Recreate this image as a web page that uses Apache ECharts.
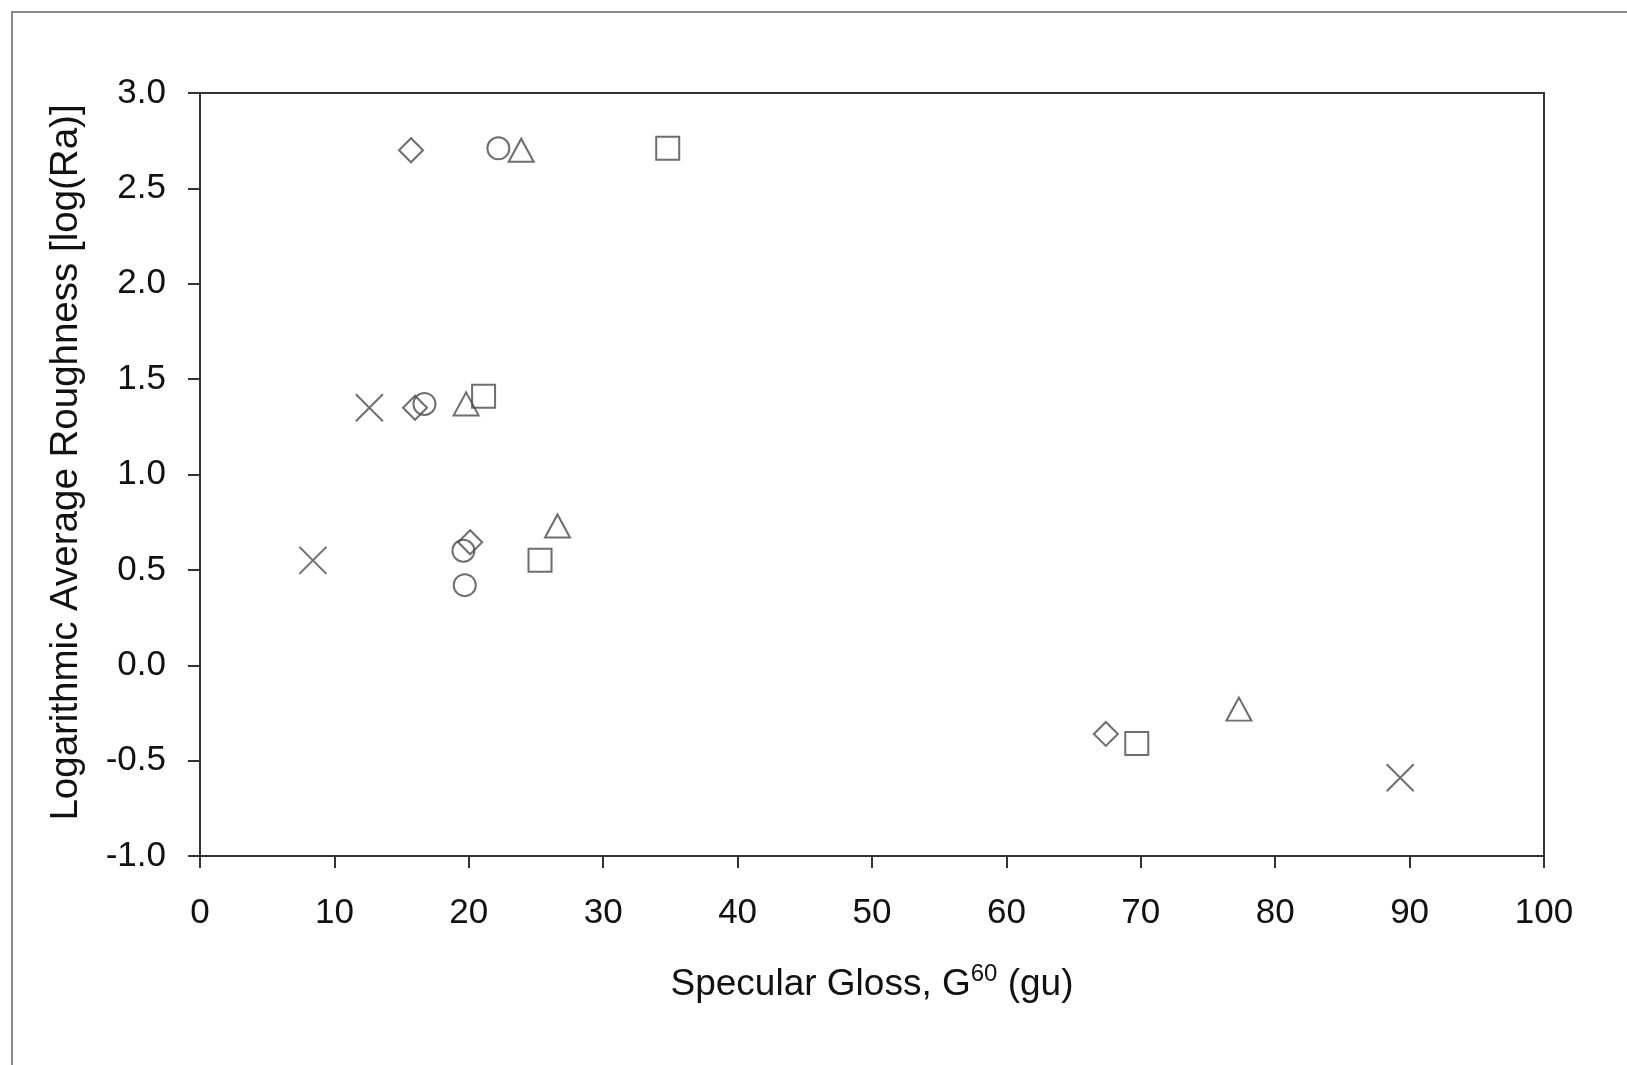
<!DOCTYPE html>
<html>
<head>
<meta charset="utf-8">
<script src="https://cdn.jsdelivr.net/npm/echarts@6/dist/echarts.min.js"></script>
<style>
  html, body { margin: 0; padding: 0; background: #fff; }
  #chart { width: 1627px; height: 1065px; }
</style>
</head>
<body>
<div id="chart"></div>
<script>
// [gloss G60, log(Ra)]
const diamondPts = [[15.7, 2.70], [16.0, 1.35], [20.1, 0.645], [67.4, -0.36]];
const circlePts = [[22.2, 2.71], [16.7, 1.37], [19.6, 0.60], [19.7, 0.42]];
const trianglePts = [[23.9, 2.70], [19.8, 1.37], [26.6, 0.73], [77.3, -0.23]];
const squarePts = [[34.8, 2.71], [21.1, 1.41], [25.3, 0.55], [69.7, -0.41]];
const crossPts = [[12.6, 1.35], [8.4, 0.55], [89.3, -0.59]];

const font = "'Liberation Sans', Arial, sans-serif";
const ink = "#4a4a4a";

const chart = echarts.init(document.getElementById("chart"));

function markSeries(data, symbol, size) {
  return {
    type: "scatter",
    data: data,
    symbol: symbol,
    symbolSize: size,
    itemStyle: { color: "rgba(255,255,255,0)", borderColor: ink, borderWidth: 2 },
    emphasis: { disabled: true },
    z: 3
  };
}

chart.setOption({
  animation: false,
  backgroundColor: "#fff",
  graphic: [
    {
      type: "rect",
      shape: { x: 12, y: 12, width: 1700, height: 1200 },
      style: { fill: "none", stroke: "#8a8a8a", lineWidth: 2 },
      silent: true
    }
  ],
  grid: {
    left: 200, right: 83, top: 93, bottom: 209,
    show: true, borderColor: "#333", borderWidth: 2, backgroundColor: "transparent"
  },
  xAxis: {
    type: "value",
    min: 0, max: 100, interval: 10,
    name: "{a|Specular Gloss, G}{s|60}{a| (gu)}",
    nameLocation: "middle",
    nameGap: 106,
    nameTextStyle: {
      rich: {
        a: { fontFamily: font, fontSize: 37, color: "#111", lineHeight: 46 },
        s: { fontFamily: font, fontSize: 24, color: "#111", verticalAlign: "top", lineHeight: 46, padding: [0, 0, 10, 0] }
      }
    },
    axisLine: { show: true, onZero: false, lineStyle: { color: "#333", width: 2 } },
    axisTick: { show: true, length: 12, lineStyle: { color: "#333", width: 2 } },
    axisLabel: { fontFamily: font, fontSize: 35, color: "#111", margin: 40 },
    splitLine: { show: false }
  },
  yAxis: {
    type: "value",
    min: -1, max: 3, interval: 0.5,
    name: "Logarithmic Average Roughness [log(Ra)]",
    nameLocation: "middle",
    nameGap: 114,
    nameTextStyle: { fontFamily: font, fontSize: 38.5, color: "#111", padding: [0, 0, 0, 24] },
    axisLine: { show: true, onZero: false, lineStyle: { color: "#333", width: 2 } },
    axisTick: { show: true, length: 12, lineStyle: { color: "#333", width: 2 } },
    axisLabel: {
      fontFamily: font, fontSize: 35, color: "#111", margin: 34,
      formatter: (v) => v.toFixed(1)
    },
    splitLine: { show: false }
  },
  series: [
    markSeries(diamondPts, "diamond", [24, 24]),
    markSeries(circlePts, "circle", 22),
    markSeries(trianglePts, "triangle", [25, 23]),
    markSeries(squarePts, "rect", 23),
    markSeries(crossPts, "path://M0,0L10,10M10,0L0,10", 27)
  ]
});
</script>
</body>
</html>
